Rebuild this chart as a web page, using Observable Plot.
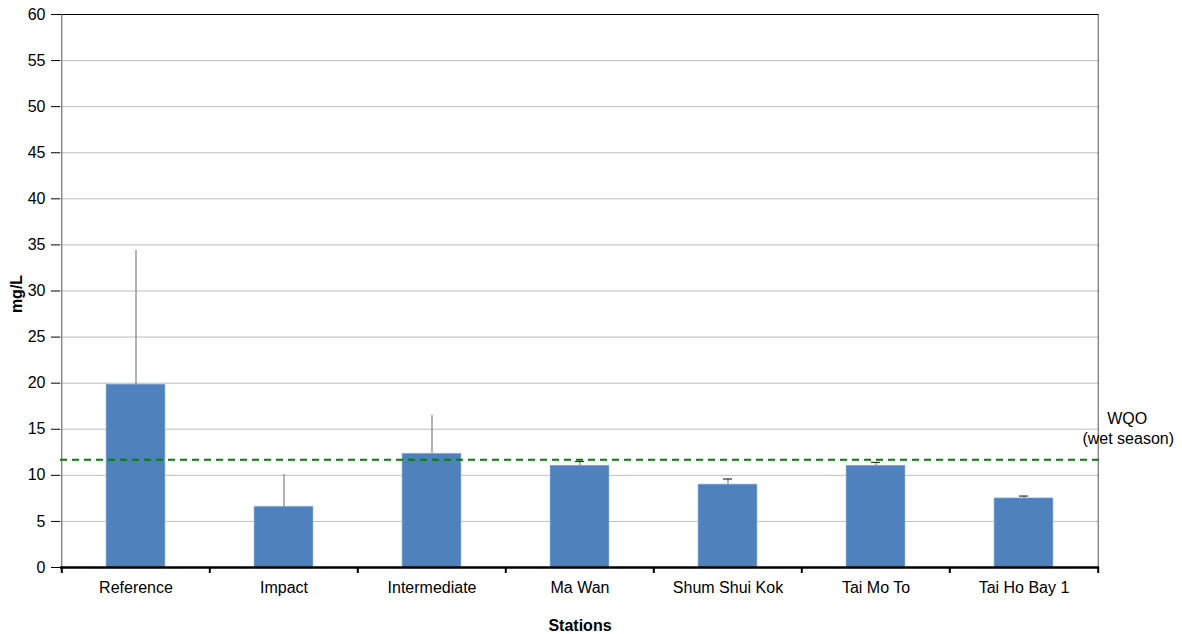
<!DOCTYPE html>
<html>
<head>
<meta charset="utf-8">
<script src="https://cdn.jsdelivr.net/npm/d3@7"></script>
<script src="https://cdn.jsdelivr.net/npm/@observablehq/plot@0.6"></script>
<style>
  html, body { margin: 0; padding: 0; background: #fff; }
  #chart { position: relative; width: 1182px; height: 634px; }
  svg { font-family: "Liberation Sans", Arial, sans-serif; }
</style>
</head>
<body>
<div id="chart"></div>
<script>
const stations = ["Reference", "Impact", "Intermediate", "Ma Wan", "Shum Shui Kok", "Tai Mo To", "Tai Ho Bay 1"];
const means = [19.85, 6.6, 12.35, 11.05, 9.0, 11.05, 7.5];
const upper = [34.4, 10.1, 16.5, 11.5, 9.6, 11.4, 7.75];
const capped = [false, false, false, true, true, true, true];
const wqo = 11.7;
const yTicks = [0, 5, 10, 15, 20, 25, 30, 35, 40, 45, 50, 55, 60];

const data = stations.map((s, i) => ({station: s, mean: means[i], upper: upper[i], capped: capped[i]}));

const W = 1182, H = 634;
const mL = 60, mR = 83, mT = 14, mB = 67;
const step = (W - mL - mR) / stations.length;

const plot = Plot.plot({
  width: W,
  height: H,
  marginLeft: mL,
  marginRight: mR,
  marginTop: mT,
  marginBottom: mB,
  style: {fontFamily: "'Liberation Sans', Arial, sans-serif", fontSize: "16px", color: "#000", background: "#fff"},
  x: {domain: stations, paddingInner: 0.6, paddingOuter: 0.3, align: 0.5, label: null},
  y: {domain: [0, 60], ticks: yTicks, label: null},
  marks: [
    Plot.ruleY(yTicks.filter(t => t > 0 && t < 60), {stroke: "#bdbdbd", strokeWidth: 1}),
    Plot.ruleY([60], {stroke: "#000", strokeWidth: 1}),
    Plot.barY(data, {x: "station", y: "mean", fill: "#4f81bd", stroke: "#a9c1e0", strokeWidth: 0.6}),
    Plot.ruleX(data, {x: "station", y1: "mean", y2: "upper", stroke: "#8a8a8a", strokeWidth: 1.3}),
    Plot.tickY(data.filter(d => d.capped), {x: "station", y: "upper", stroke: "#333", strokeWidth: 1.2, insetLeft: 25, insetRight: 25}),
    Plot.ruleY([wqo], {stroke: "#008000", strokeWidth: 2, strokeDasharray: "7,5"}),
    Plot.ruleX([0], {x: () => stations[0], dx: -step / 2, stroke: "#555", strokeWidth: 1}),
    Plot.ruleX([0], {x: () => stations[stations.length - 1], dx: step / 2, stroke: "#555", strokeWidth: 1}),
    Plot.ruleY([0], {stroke: "#000", strokeWidth: 2.5}),
    Plot.axisY({ticks: yTicks, tickSize: 9, tickPadding: 6, fontSize: 16, stroke: "#000", label: null}),
    Plot.ruleX(stations, {x: d => d, dx: -step / 2, y1: 0, y2: 0, insetBottom: -6, stroke: "#000", strokeWidth: 2}),
    Plot.ruleX([stations[stations.length - 1]], {x: d => d, dx: step / 2, y1: 0, y2: 0, insetBottom: -6, stroke: "#000", strokeWidth: 2}),
    Plot.axisX({tickSize: 0, tickPadding: 14, fontSize: 16, label: null}),
    Plot.text(["Stations"], {frameAnchor: "bottom", dy: 63, text: d => d, fontWeight: "bold", fontSize: 16}),
    Plot.text(["mg/L"], {frameAnchor: "left", textAnchor: "middle", dx: -44, dy: 3, rotate: -90, text: d => d, fontWeight: "bold", fontSize: 16}),
    Plot.text(["WQO"], {x: () => stations[stations.length - 1], y: () => wqo, dx: step / 2 + 29, dy: -41, text: d => d, fontSize: 16}),
    Plot.text(["(wet season)"], {x: () => stations[stations.length - 1], y: () => wqo, dx: step / 2 + 30, dy: -21, text: d => d, fontSize: 16})
  ]
});
document.getElementById("chart").appendChild(plot);
</script>
</body>
</html>
